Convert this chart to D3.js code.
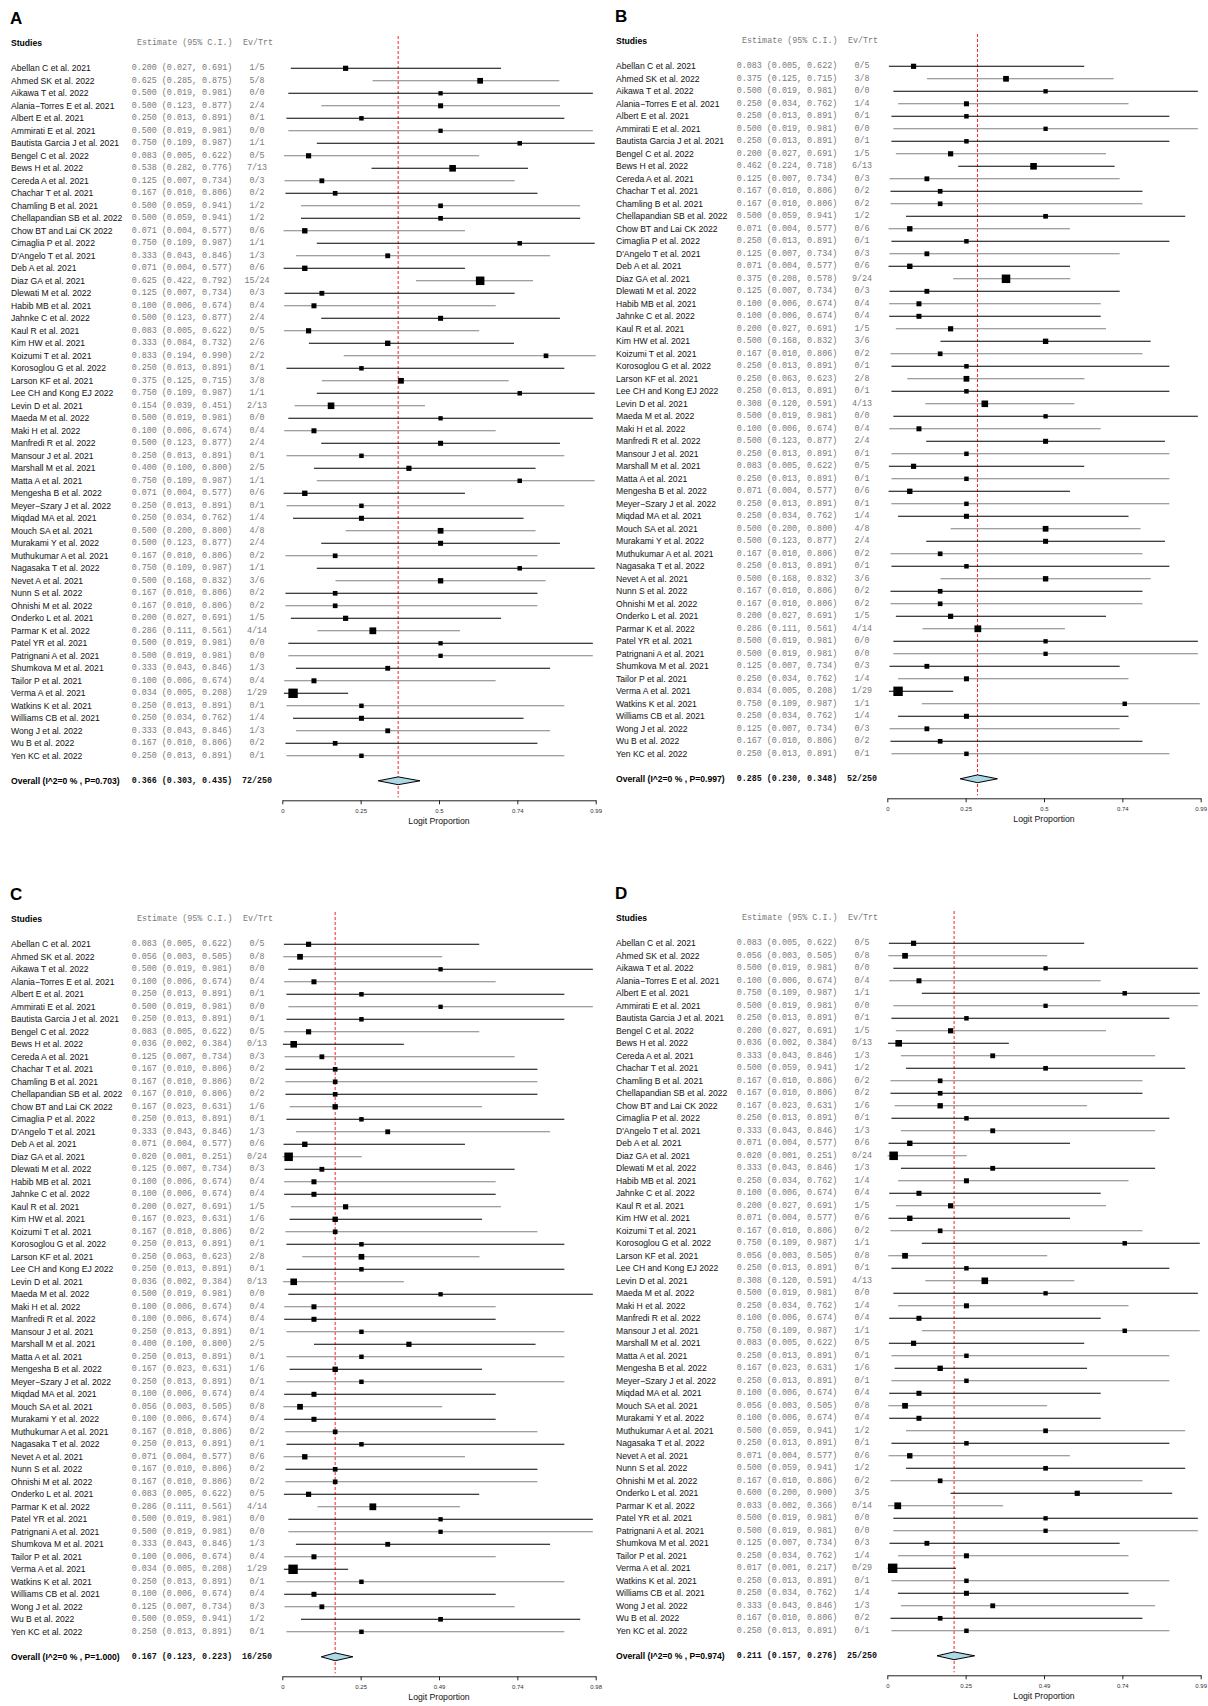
<!DOCTYPE html>
<html>
<head>
<meta charset="utf-8">
<script src="https://cdn.jsdelivr.net/npm/d3@7"></script>
<style>
  body { margin: 0; background: #fff; }
  svg { display: block; }
</style>
</head>
<body>
<div id="chart"></div>
<script>
// study names and number treated (shared by all four panels)
const studies = ["Abellan C et al. 2021", "Ahmed SK et al. 2022", "Aikawa T et al. 2022", "Alania\u2212Torres E et al. 2021",
  "Albert E et al. 2021", "Ammirati E et al. 2021", "Bautista Garcia J et al. 2021", "Bengel C et al. 2022",
  "Bews H et al.  2022", "Cereda A et al. 2021", "Chachar T et al. 2021", "Chamling B et al. 2021",
  "Chellapandian SB et al. 2022", "Chow BT and Lai CK 2022", "Cimaglia P et al. 2022", "D'Angelo T et al. 2021",
  "Deb A et al. 2021", "Diaz GA et al. 2021", "Dlewati M et al. 2022", "Habib MB et al. 2021",
  "Jahnke C et al. 2022", "Kaul R et al. 2021", "Kim HW et al. 2021", "Koizumi T et al. 2021",
  "Korosoglou G et al. 2022", "Larson KF et al. 2021", "Lee CH and Kong EJ 2022", "Levin D et al. 2021",
  "Maeda M et al. 2022", "Maki H et al. 2022", "Manfredi R et al. 2022", "Mansour J et al. 2021",
  "Marshall M et al. 2021", "Matta A et al. 2021", "Mengesha B et al. 2022", "Meyer\u2212Szary J et al. 2022",
  "Miqdad MA et al. 2021", "Mouch SA et al. 2021", "Murakami Y et al. 2022", "Muthukumar A et al. 2021",
  "Nagasaka T et al. 2022", "Nevet A et al.  2021", "Nunn S et al. 2022", "Ohnishi M et al. 2022",
  "Onderko L et al. 2021", "Parmar K et al. 2022", "Patel YR et al. 2021", "Patrignani A et al. 2021",
  "Shumkova M et al. 2021", "Tailor P et al.  2021", "Verma A et al. 2021", "Watkins K et al. 2021",
  "Williams CB et al. 2021", "Wong J et al. 2022", "Wu B et al. 2022", "Yen KC et al. 2022"];
const trt = [5, 8, 0, 4, 1, 0, 1, 5, 13, 3, 2, 2, 2, 6, 1, 3, 6, 24, 3, 4, 4, 5, 6, 2, 1, 8, 1, 13,
  0, 4, 4, 1, 5, 1, 6, 1, 4, 8, 4, 2, 1, 6, 2, 2, 5, 14, 0, 0, 3, 4, 29, 1, 4, 3, 2, 1];

// panel A
const estA = [.200,.625,.500,.500,.250,.500,.750,.083,.538,.125,.167,.500,.500,.071,.750,.333,.071,.625,.125,.100,.500,.083,.333,.833,.250,.375,.750,.154,
  .500,.100,.500,.250,.400,.750,.071,.250,.250,.500,.500,.167,.750,.500,.167,.167,.200,.286,.500,.500,.333,.100,.034,.250,.250,.333,.167,.250];
const loA = [.027,.285,.019,.123,.013,.019,.109,.005,.282,.007,.010,.059,.059,.004,.109,.043,.004,.422,.007,.006,.123,.005,.084,.194,.013,.125,.109,.039,
  .019,.006,.123,.013,.100,.109,.004,.013,.034,.200,.123,.010,.109,.168,.010,.010,.027,.111,.019,.019,.043,.006,.005,.013,.034,.043,.010,.013];
const hiA = [.691,.875,.981,.877,.891,.981,.987,.622,.776,.734,.806,.941,.941,.577,.987,.846,.577,.792,.734,.674,.877,.622,.732,.990,.891,.715,.987,.451,
  .981,.674,.877,.891,.800,.987,.577,.891,.762,.800,.877,.806,.987,.832,.806,.806,.691,.561,.981,.981,.846,.674,.208,.891,.762,.846,.806,.891];
const evA = [1,5,0,2,0,0,1,0,7,0,0,1,1,0,1,1,0,15,0,0,2,0,2,2,0,3,1,2,0,0,2,0,2,1,0,0,1,4,2,0,1,3,0,0,1,4,0,0,1,0,1,0,1,1,0,0];

// panel B
const estB = [.083,.375,.500,.250,.250,.500,.250,.200,.462,.125,.167,.167,.500,.071,.250,.125,.071,.375,.125,.100,.100,.200,.500,.167,.250,.250,.250,.308,
  .500,.100,.500,.250,.083,.250,.071,.250,.250,.500,.500,.167,.250,.500,.167,.167,.200,.286,.500,.500,.125,.250,.034,.750,.250,.125,.167,.250];
const loB = [.005,.125,.019,.034,.013,.019,.013,.027,.224,.007,.010,.010,.059,.004,.013,.007,.004,.208,.007,.006,.006,.027,.168,.010,.013,.063,.013,.120,
  .019,.006,.123,.013,.005,.013,.004,.013,.034,.200,.123,.010,.013,.168,.010,.010,.027,.111,.019,.019,.007,.034,.005,.109,.034,.007,.010,.013];
const hiB = [.622,.715,.981,.762,.891,.981,.891,.691,.718,.734,.806,.806,.941,.577,.891,.734,.577,.578,.734,.674,.674,.691,.832,.806,.891,.623,.891,.591,
  .981,.674,.877,.891,.622,.891,.577,.891,.762,.800,.877,.806,.891,.832,.806,.806,.691,.561,.981,.981,.734,.762,.208,.987,.762,.734,.806,.891];
const evB = [0,3,0,1,0,0,0,1,6,0,0,0,1,0,0,0,0,9,0,0,0,1,3,0,0,2,0,4,0,0,2,0,0,0,0,0,1,4,2,0,0,3,0,0,1,4,0,0,0,1,1,1,1,0,0,0];

// panel C
const estC = [.083,.056,.500,.100,.250,.500,.250,.083,.036,.125,.167,.167,.167,.167,.250,.333,.071,.020,.125,.100,.100,.200,.167,.167,.250,.250,.250,.036,
  .500,.100,.100,.250,.400,.250,.167,.250,.100,.056,.100,.167,.250,.071,.167,.167,.083,.286,.500,.500,.333,.100,.034,.250,.100,.125,.500,.250];
const loC = [.005,.003,.019,.006,.013,.019,.013,.005,.002,.007,.010,.010,.010,.023,.013,.043,.004,.001,.007,.006,.006,.027,.023,.010,.013,.063,.013,.002,
  .019,.006,.006,.013,.100,.013,.023,.013,.006,.003,.006,.010,.013,.004,.010,.010,.005,.111,.019,.019,.043,.006,.005,.013,.006,.007,.059,.013];
const hiC = [.622,.505,.981,.674,.891,.981,.891,.622,.384,.734,.806,.806,.806,.631,.891,.846,.577,.251,.734,.674,.674,.691,.631,.806,.891,.623,.891,.384,
  .981,.674,.674,.891,.800,.891,.631,.891,.674,.505,.674,.806,.891,.577,.806,.806,.622,.561,.981,.981,.846,.674,.208,.891,.674,.734,.941,.891];
const evC = [0,0,0,0,0,0,0,0,0,0,0,0,0,1,0,1,0,0,0,0,0,1,1,0,0,2,0,0,0,0,0,0,2,0,1,0,0,0,0,0,0,0,0,0,0,4,0,0,1,0,1,0,0,0,1,0];

// panel D
const estD = [.083,.056,.500,.100,.750,.500,.250,.200,.036,.333,.500,.167,.167,.167,.250,.333,.071,.020,.333,.250,.100,.200,.071,.167,.750,.056,.250,.308,
  .500,.250,.100,.750,.083,.250,.167,.250,.100,.056,.100,.500,.250,.071,.500,.167,.600,.033,.500,.500,.125,.250,.017,.250,.250,.333,.167,.250];
const loD = [.005,.003,.019,.006,.109,.019,.013,.027,.002,.043,.059,.010,.010,.023,.013,.043,.004,.001,.043,.034,.006,.027,.004,.010,.109,.003,.013,.120,
  .019,.034,.006,.109,.005,.013,.023,.013,.006,.003,.006,.059,.013,.004,.059,.010,.200,.002,.019,.019,.007,.034,.001,.013,.034,.043,.010,.013];
const hiD = [.622,.505,.981,.674,.987,.981,.891,.691,.384,.846,.941,.806,.806,.631,.891,.846,.577,.251,.846,.762,.674,.691,.577,.806,.987,.505,.891,.591,
  .981,.762,.674,.987,.622,.891,.631,.891,.674,.505,.674,.941,.891,.577,.941,.806,.900,.366,.981,.981,.734,.762,.217,.891,.762,.846,.806,.891];
const evD = [0,0,0,0,1,0,0,1,0,1,1,0,0,1,0,1,0,0,1,1,0,1,0,0,1,0,0,4,0,1,0,1,0,0,1,0,0,0,0,1,0,0,1,0,3,0,0,0,0,1,0,0,1,1,0,0];

// pooled results per panel: [estimate, lower, upper, events]
const overallA = [0.366, 0.303, 0.435, 72];
const overallB = [0.285, 0.230, 0.348, 52];
const overallC = [0.167, 0.123, 0.223, 16];
const overallD = [0.211, 0.157, 0.276, 25];
const pValues = ["0.703", "0.997", "1.000", "0.974"];
const i2Values = ["0", "0", "0", "0"];

const tickPos = [0, 0.2475, 0.495, 0.7425, 0.99];
const tickLabelsA = ["0", "0.25", "0.5", "0.74", "0.99"];
const tickLabelsB = ["0", "0.25", "0.5", "0.74", "0.99"];
const tickLabelsC = ["0", "0.25", "0.49", "0.74", "0.98"];
const tickLabelsD = ["0", "0.25", "0.49", "0.74", "0.99"];

const panels = [
  {label: "A", est: estA, lo: loA, hi: hiA, ev: evA, overall: overallA, ticks: tickLabelsA, dx: 0, dy: 0},
  {label: "B", est: estB, lo: loB, hi: hiB, ev: evB, overall: overallB, ticks: tickLabelsB, dx: 605, dy: -2},
  {label: "C", est: estC, lo: loC, hi: hiC, ev: evC, overall: overallC, ticks: tickLabelsC, dx: 0, dy: 876},
  {label: "D", est: estD, lo: loD, hi: hiD, ev: evD, overall: overallD, ticks: tickLabelsD, dx: 605, dy: 875}
];

const W = 1208, H = 1706;
const sans = "'Liberation Sans', Arial, sans-serif";
const mono = "'Liberation Mono', 'Courier New', monospace";
const f3 = d3.format(".3f");

const svg = d3.select("#chart").append("svg")
  .attr("width", W).attr("height", H);
svg.append("rect").attr("width", W).attr("height", H).attr("fill", "#fff");

const rowY0 = 68.3, rowStep = 12.5;
const y = d3.scaleLinear().domain([0, 1]).range([rowY0, rowY0 + rowStep]);
const x = d3.scaleLinear().domain([0, 0.99]).range([282.3, 595.7]);
const size = d3.scaleLinear().domain([0, 29]).range([4.3, 9.4]);

const overallIdx = studies.length + 1;   // two rows below last study
const axisY = y(overallIdx) + 19.5;

panels.forEach(function (p, k) {
  const g = svg.append("g").attr("transform", `translate(${p.dx},${p.dy})`);

  g.append("text").attr("x", 10).attr("y", 24)
    .style("font-family", sans).style("font-weight", "bold").style("font-size", "17px")
    .text(p.label);

  // header
  g.append("text").attr("x", 11).attr("y", 43).attr("dominant-baseline", "central")
    .style("font-family", sans).style("font-weight", "bold").style("font-size", "8.6px")
    .text("Studies");
  g.append("text").attr("x", 137).attr("y", 43).attr("dominant-baseline", "central")
    .style("font-family", mono).style("font-size", "8.4px").attr("fill", "#7a7a7a")
    .text("Estimate (95% C.I.)");
  g.append("text").attr("x", 258).attr("y", 43).attr("dominant-baseline", "central").attr("text-anchor", "middle")
    .style("font-family", mono).style("font-size", "8.4px").attr("fill", "#7a7a7a")
    .text("Ev/Trt");

  const rows = studies.map(function (s, i) {
    return {name: s, i: i, est: p.est[i], lo: p.lo[i], hi: p.hi[i], ev: p.ev[i], n: trt[i]};
  });

  // red dashed line at pooled estimate
  g.append("line")
    .attr("x1", x(p.overall[0])).attr("x2", x(p.overall[0]))
    .attr("y1", 36).attr("y2", axisY - 3)
    .attr("stroke", "#ff2020").attr("stroke-width", 1).attr("stroke-dasharray", "3,2");

  const row = g.selectAll("g.row").data(rows).enter().append("g").attr("class", "row");

  row.append("text").attr("x", 11).attr("y", d => y(d.i)).attr("dominant-baseline", "central")
    .style("font-family", sans).style("font-size", "8.6px").attr("fill", "#111")
    .text(d => d.name);
  row.append("text").attr("x", 131.7).attr("y", d => y(d.i)).attr("dominant-baseline", "central")
    .style("font-family", mono).style("font-size", "8.4px").attr("fill", "#7a7a7a")
    .style("white-space", "pre")
    .text(d => `${f3(d.est)} (${f3(d.lo)}, ${f3(d.hi)})`);
  row.append("text").attr("x", 257).attr("y", d => y(d.i)).attr("dominant-baseline", "central").attr("text-anchor", "middle")
    .style("font-family", mono).style("font-size", "8.4px").attr("fill", "#7a7a7a")
    .text(d => `${d.ev}/${d.n}`);

  row.append("line")
    .attr("x1", d => x(d.lo)).attr("x2", d => x(d.hi))
    .attr("y1", d => y(d.i)).attr("y2", d => y(d.i))
    .attr("stroke", d => d.i % 2 === 0 ? "#000" : "#808080").attr("stroke-width", 1.1);
  row.append("rect")
    .attr("x", d => x(d.est) - size(d.n) / 2).attr("y", d => y(d.i) - size(d.n) / 2)
    .attr("width", d => size(d.n)).attr("height", d => size(d.n))
    .attr("fill", "#000");

  // overall row
  const oy = y(overallIdx);
  g.append("text").attr("x", 11).attr("y", oy).attr("dominant-baseline", "central")
    .style("font-family", sans).style("font-weight", "bold").style("font-size", "8.6px")
    .text(`Overall (I^2=${i2Values[k]} % , P=${pValues[k]})`);
  g.append("text").attr("x", 131.7).attr("y", oy).attr("dominant-baseline", "central")
    .style("font-family", mono).style("font-weight", "bold").style("font-size", "8.4px").attr("fill", "#111")
    .text(`${f3(p.overall[0])} (${f3(p.overall[1])}, ${f3(p.overall[2])})`);
  g.append("text").attr("x", 257).attr("y", oy).attr("dominant-baseline", "central").attr("text-anchor", "middle")
    .style("font-family", mono).style("font-weight", "bold").style("font-size", "8.4px").attr("fill", "#111")
    .text(`${p.overall[3]}/${d3.sum(trt)}`);

  const diamond = [[p.overall[1], 0], [p.overall[0], -3.9], [p.overall[2], 0], [p.overall[0], 3.9]];
  g.append("path")
    .attr("d", d3.line().x(d => x(d[0])).y(d => oy + d[1])(diamond) + "Z")
    .attr("fill", "#add8e6").attr("stroke", "#000").attr("stroke-width", 1);

  // axis
  const axis = g.append("g").attr("transform", `translate(0,${axisY})`)
    .call(d3.axisBottom(x).tickValues(tickPos).tickFormat((d, i) => p.ticks[i])
      .tickSize(4).tickSizeOuter(0).tickPadding(4.5));
  axis.select(".domain").attr("stroke", "#222").attr("stroke-width", 1);
  axis.selectAll(".tick line").attr("stroke", "#222");
  axis.selectAll(".tick text").style("font-family", sans).style("font-size", "6px").attr("fill", "#333");

  g.append("text").attr("x", (x.range()[0] + x.range()[1]) / 2).attr("y", axisY + 20.5)
    .attr("text-anchor", "middle").attr("dominant-baseline", "central")
    .style("font-family", sans).style("font-size", "8.7px").attr("fill", "#111")
    .text("Logit Proportion");
});
</script>
</body>
</html>
